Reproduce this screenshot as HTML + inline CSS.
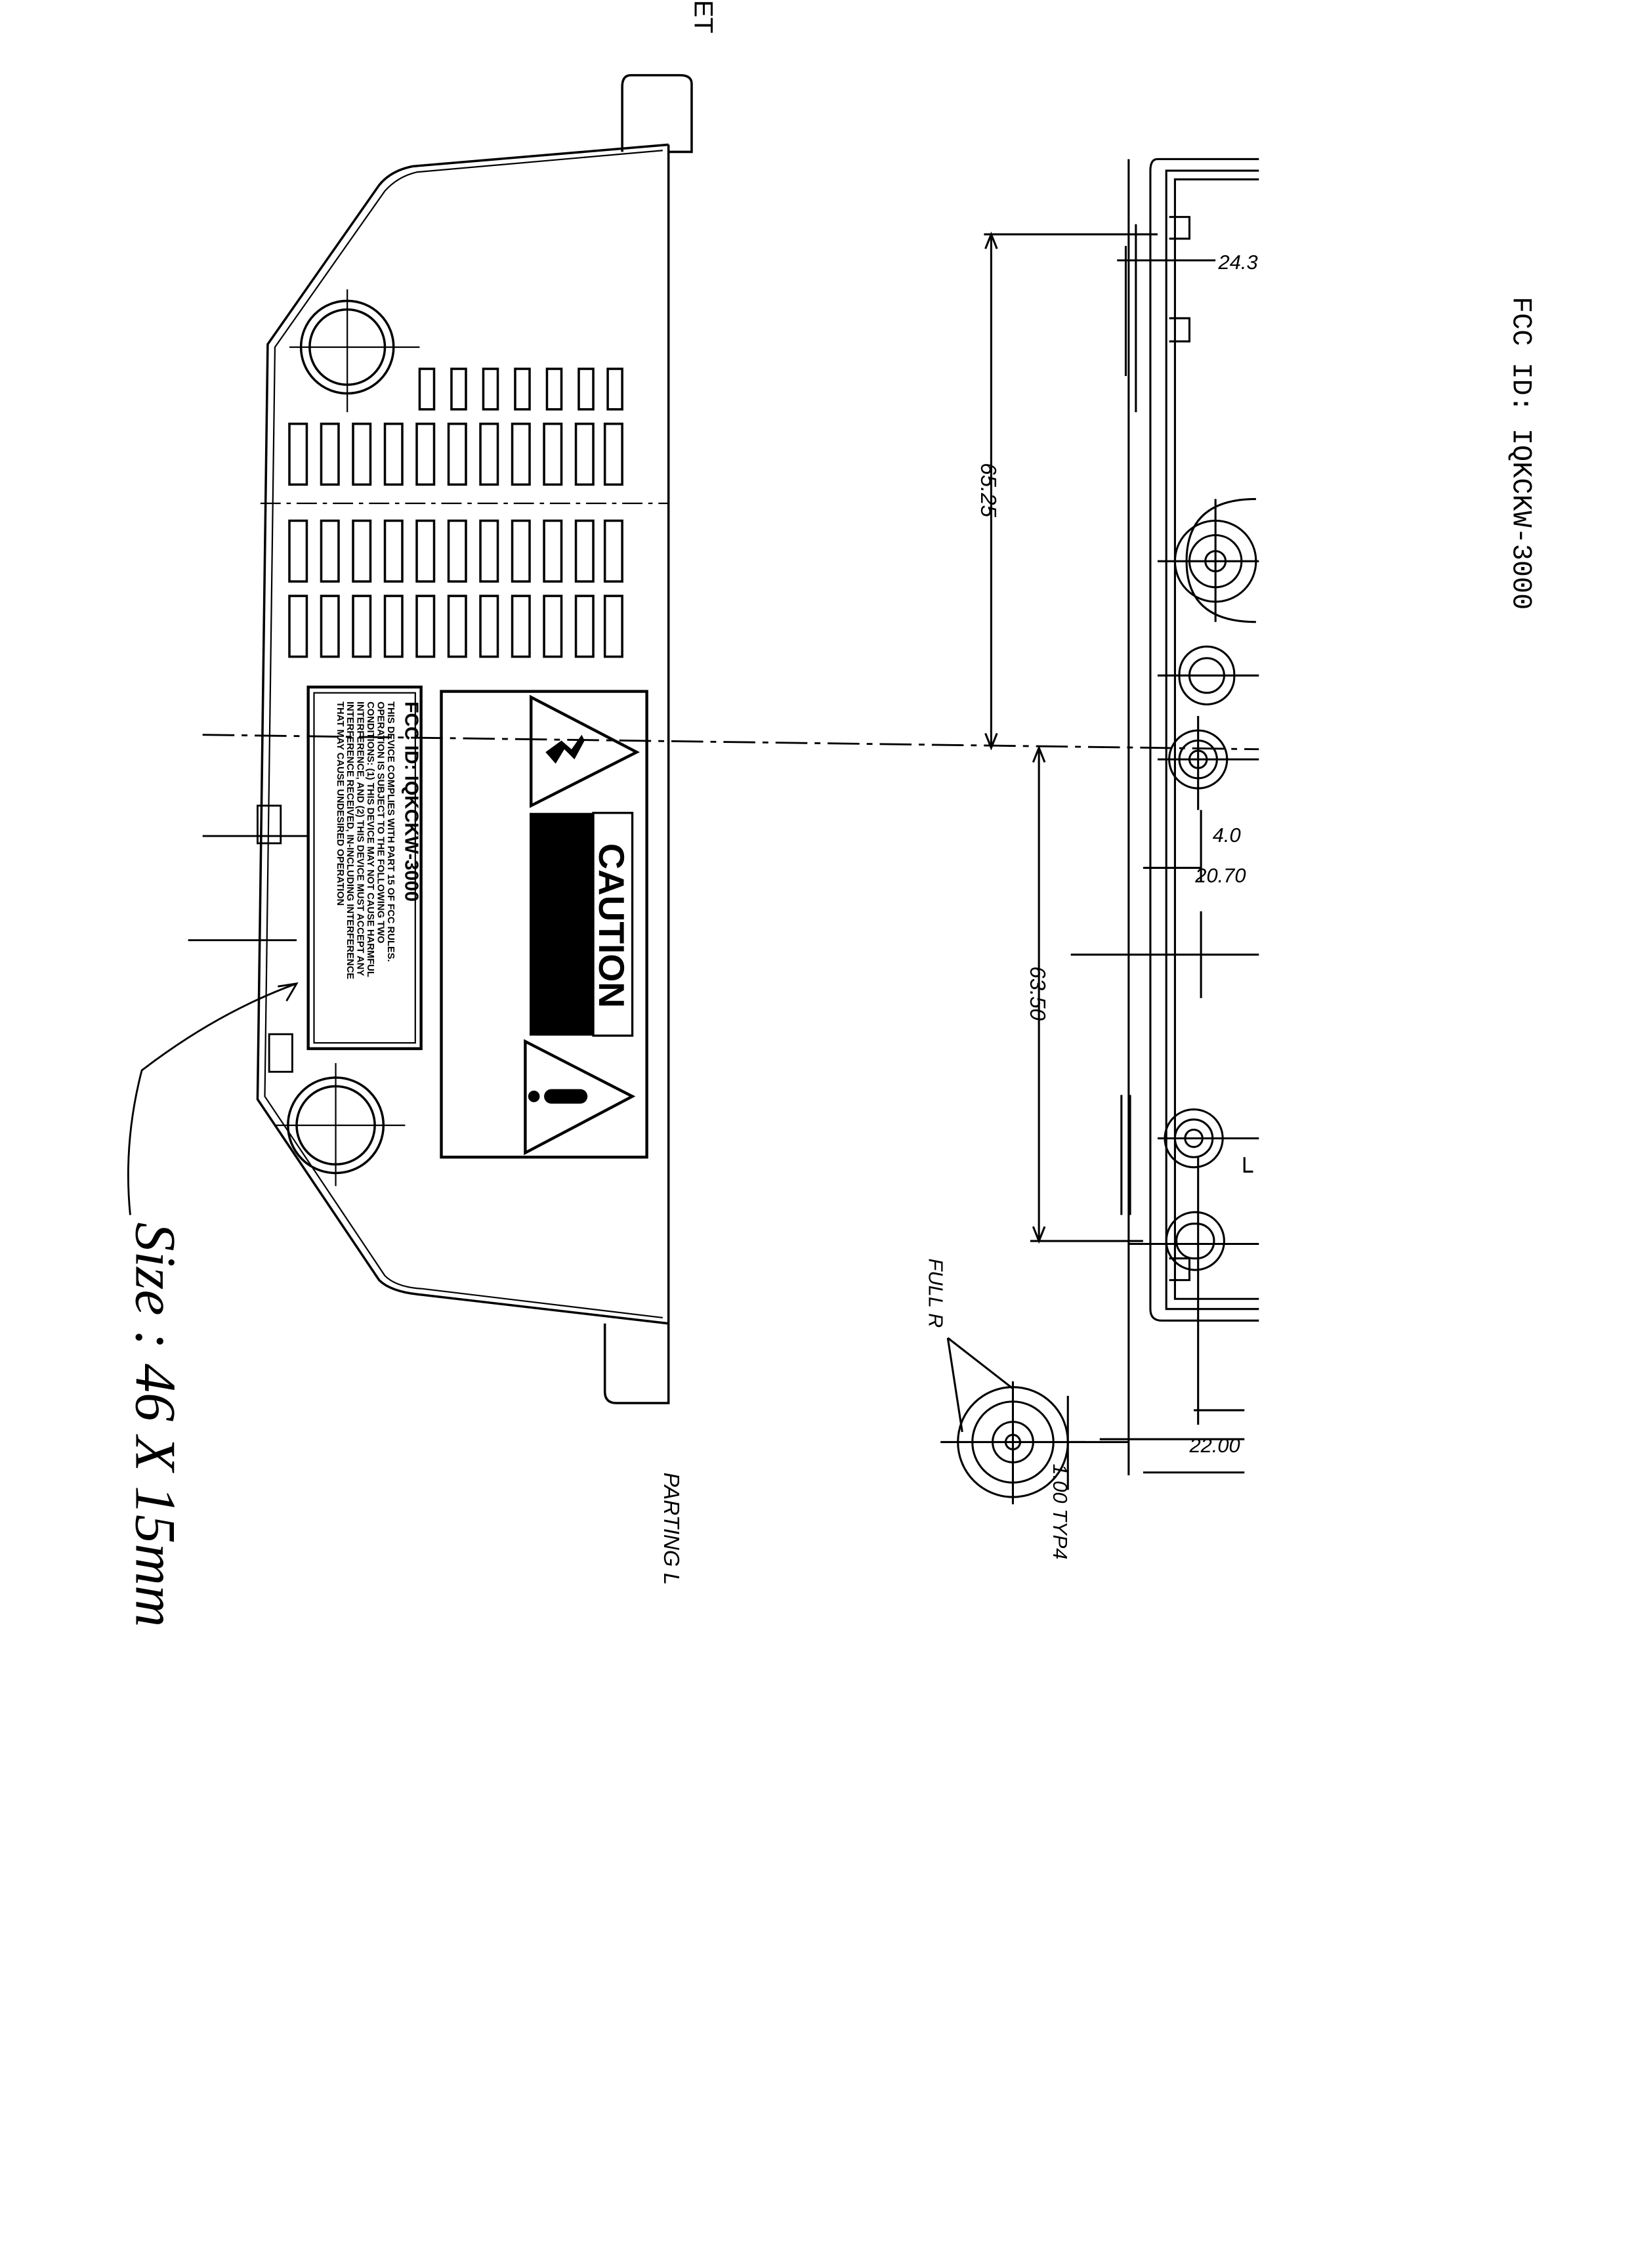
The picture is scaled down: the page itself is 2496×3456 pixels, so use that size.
<!DOCTYPE html>
<html><head><meta charset="utf-8"><style>
html,body{margin:0;padding:0;background:#fff;}
svg{display:block;}
text{font-family:"Liberation Sans",sans-serif;}
</style></head><body>
<svg width="2496" height="3456" viewBox="0 0 1132 1568" preserveAspectRatio="none" xmlns="http://www.w3.org/2000/svg">
<rect width="1132" height="1568" fill="#fff"/>
<g fill="none" stroke="#000" stroke-width="1.6">
<path d="M462,105 L478,105 L478,58 Q478,52 470,52 L436,52 Q430,52 430,60 L430,105"/>
<path d="M418,915 L418,962 Q418,970 426,970 L462,970 L462,915"/>
<path d="M462,100 L462,915"/>
<path d="M462,100 L285,115 Q270,118 262,128 L185,238 L178,760 L262,885 Q270,893 290,895 L462,915"/>
<path d="M458,104 L288,119 Q275,122 266,132 L190,240 L183,758 L266,882 Q274,890 292,891 L458,911" stroke-width="1"/>
<circle cx="240" cy="240" r="32"/><circle cx="240" cy="240" r="26"/>
<circle cx="232" cy="778" r="33"/><circle cx="232" cy="778" r="27"/>
<path d="M200,240 H290 M240,200 V285 M190,778 H280 M232,735 V820" stroke-width="1"/>
<path d="M180,348 H462" stroke-dasharray="14,4,3,4" stroke-width="1"/>
</g>
<g fill="none" stroke="#000" stroke-width="1.6">
<rect x="290" y="255" width="10" height="28"/><rect x="312" y="255" width="10" height="28"/><rect x="334" y="255" width="10" height="28"/><rect x="356" y="255" width="10" height="28"/><rect x="378" y="255" width="10" height="28"/><rect x="400" y="255" width="10" height="28"/><rect x="420" y="255" width="10" height="28"/>
</g>
<g fill="none" stroke="#000" stroke-width="1.6">
<g id="r2">
<rect x="200" y="293" width="12" height="42"/><rect x="222" y="293" width="12" height="42"/><rect x="244" y="293" width="12" height="42"/><rect x="266" y="293" width="12" height="42"/><rect x="288" y="293" width="12" height="42"/><rect x="310" y="293" width="12" height="42"/><rect x="332" y="293" width="12" height="42"/><rect x="354" y="293" width="12" height="42"/><rect x="376" y="293" width="12" height="42"/><rect x="398" y="293" width="12" height="42"/><rect x="418" y="293" width="12" height="42"/>
</g>
<use href="#r2" transform="translate(0,67)"/>
<use href="#r2" transform="translate(0,119)"/>
</g>
<g fill="none" stroke="#000" stroke-width="1.3">
<path d="M140,508 L870,518" stroke-dasharray="22,5,4,5"/>
<path d="M140,578 H213 M130,650 H205"/>
<rect x="178" y="557" width="16" height="26"/>
<rect x="186" y="715" width="16" height="26"/>
<path d="M90,840 Q85,790 98,740 Q150,700 205,680 M192,682 L205,680 L198,692"/>
</g>
<rect x="213" y="475" width="78" height="250" fill="none" stroke="#000" stroke-width="2"/>
<rect x="217" y="479" width="70" height="242" fill="none" stroke="#000" stroke-width="1"/>
<text transform="translate(280,485) rotate(90)" font-size="13" font-weight="bold">FCC ID: IQKCKW-3000</text>
<g font-size="6.7" font-weight="bold">
<text transform="translate(268,485) rotate(90)">THIS DEVICE COMPLIES WITH PART 15 OF FCC RULES.</text>
<text transform="translate(261,485) rotate(90)">OPERATION IS SUBJECT TO THE FOLLOWING TWO</text>
<text transform="translate(254,485) rotate(90)">CONDITIONS: (1) THIS DEVICE MAY NOT CAUSE HARMFUL</text>
<text transform="translate(247,485) rotate(90)">INTERFERENCE, AND (2) THIS DEVICE MUST ACCEPT ANY</text>
<text transform="translate(240,485) rotate(90)">INTERFERENCE RECEIVED, IN-INCLUDING INTERFERENCE</text>
<text transform="translate(233,485) rotate(90)">THAT MAY CAUSE UNDESIRED OPERATION</text>
</g>
<rect x="305" y="478" width="142" height="322" fill="none" stroke="#000" stroke-width="2"/>
<path d="M367,482 L367,557 L440,520 Z" fill="none" stroke="#000" stroke-width="2"/>
<path d="M377,520 L388,512 L395,518 L402,508 L404,512 L397,525 L390,518 L384,528 Z" fill="#000"/>
<rect x="366" y="562" width="44" height="154" fill="#000"/>
<rect x="410" y="562" width="27" height="154" fill="none" stroke="#000" stroke-width="1.5"/>
<text transform="translate(414,583) rotate(90)" font-size="25" font-weight="bold">CAUTION</text>
<path d="M363,720 L363,797 L437,758 Z" fill="none" stroke="#000" stroke-width="2"/>
<rect x="376" y="753" width="30" height="10" rx="5" fill="#000"/>
<circle cx="369" cy="758" r="4" fill="#000"/>
<g fill="none" stroke="#000" stroke-width="1.4">
<path d="M870,110 H800 Q795,110 795,118 V905 Q795,913 803,913 H870"/>
<path d="M870,118 H806 V905 H870"/>
<path d="M870,124 H812 V898 H870"/>
<path d="M780,110 V1020"/>
<path d="M808,150 H822 V165 H808 M808,220 H822 V236 H808 M808,870 H822 V885 H808"/>
<path d="M785,155 V285 M778,170 V260"/>
<path d="M772,180 H840"/>
<circle cx="840" cy="388" r="28"/><circle cx="840" cy="388" r="18"/><circle cx="840" cy="388" r="7"/>
<path d="M800,388 H870 M840,345 V430"/>
<path d="M868,345 Q820,345 820,388 Q820,430 868,430"/>
<rect x="815" y="447" width="38" height="40" rx="19"/><rect x="822" y="455" width="24" height="24" rx="12"/>
<path d="M800,467 H870"/>
<circle cx="828" cy="525" r="20"/><circle cx="828" cy="525" r="13"/><circle cx="828" cy="525" r="6"/>
<path d="M800,525 H870 M828,495 V560"/>
<path d="M740,660 H870 M830,630 V690"/>
<circle cx="825" cy="787" r="20"/><circle cx="825" cy="787" r="13"/><circle cx="825" cy="787" r="6"/>
<path d="M800,787 H870"/>
<rect x="806" y="838" width="40" height="40" rx="20"/><rect x="813" y="846" width="26" height="24" rx="12"/>
<path d="M780,860 H870"/>
<path d="M775,757 V840 M781,757 V840"/>
<path d="M790,600 H830 M830,560 V610"/>
<path d="M828,800 V985 M860,800 L860,810 L866,810"/>
<path d="M760,995 H860 M740,997 H780 M790,1018 H860"/>
<path d="M825,975 H860"/>
<path d="M680,162 H800 M685,162 V517 M718,517 V858 M712,858 H790"/>
<path d="M681,172 L685,162 L689,172 M681,507 L685,517 L689,507 M714,527 L718,517 L722,527 M714,848 L718,858 L722,848"/>
<circle cx="700" cy="997" r="38"/><circle cx="700" cy="997" r="28"/><circle cx="700" cy="997" r="14"/><circle cx="700" cy="997" r="5"/>
<path d="M650,997 H750 M700,955 V1040"/>
<path d="M655,925 L700,960 M655,925 L665,990"/>
<path d="M738,965 V1030"/>
</g>
<g font-style="italic" font-size="15">
<text transform="translate(678,320) rotate(90)">65.25</text>
<text transform="translate(712,668) rotate(90)">63.50</text>
<text transform="translate(642,870) rotate(90)" font-size="14">FULL R</text>
<text transform="translate(728,1012) rotate(90)" font-size="14">1.00 TYP4</text>
<text transform="translate(459,1018) rotate(90)">PARTING L</text>
<text x="842" y="186" font-size="14">24.3</text>
<text x="838" y="582" font-size="14">4.0</text>
<text x="826" y="610" font-size="14">20.70</text>
<text x="822" y="1004" font-size="14">22.00</text>
</g>
<text transform="translate(1046,205) rotate(90)" style="font-family:'Liberation Mono',monospace" font-size="19">FCC ID: IQKCKW-3000</text>
<text transform="translate(480,0) rotate(90)" font-size="18">ET</text>
<text transform="translate(94,845) rotate(90)" font-size="40" font-style="italic" style="font-family:'Liberation Serif',serif">Size : 46 X 15mm</text>
</svg>
</body></html>
